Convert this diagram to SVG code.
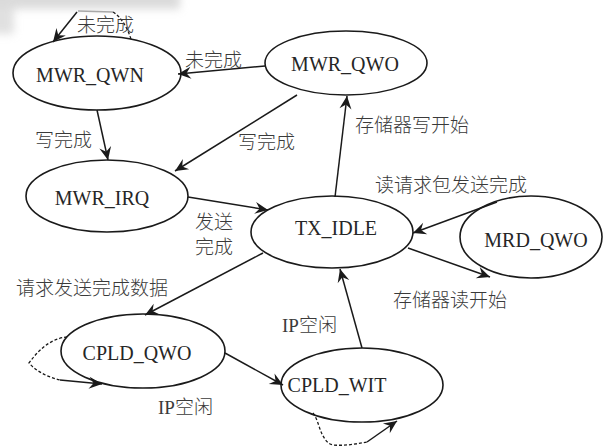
<svg xmlns="http://www.w3.org/2000/svg" width="603" height="448" viewBox="0 0 603 448">
  <style>
    .st { fill: none; stroke: #1a1a1a; stroke-width: 1.6; }
    .ln { fill: none; stroke: #1a1a1a; stroke-width: 1.5; }
    .dash { fill: none; stroke: #1a1a1a; stroke-width: 1.3; stroke-dasharray: 3 2; }
    .nm { font-family: "Liberation Serif", "Times New Roman", serif; font-size: 20px; fill: #262626; text-anchor: middle; }
    .lb { font-family: "Liberation Serif", "Noto Sans CJK SC", sans-serif; font-size: 19px; font-weight: 300; fill: #3a3a3a; }
  </style>
  <defs>
    <marker id="arr" viewBox="-14 -7 16 14" refX="0" refY="0" markerWidth="16" markerHeight="14" markerUnits="userSpaceOnUse" orient="auto">
      <path d="M0,0 L-13,-6 L-8.5,0 L-13,6 Z" fill="#1a1a1a"/>
    </marker>
    <filter id="soft" x="-50%" y="-50%" width="200%" height="200%">
      <feGaussianBlur stdDeviation="4"/>
    </filter>
  </defs>

  <rect width="603" height="448" fill="#fff"/>

  <!-- worn print at the top-left corner -->
  <g filter="url(#soft)" opacity="0.55">
    <rect x="-10" y="-10" width="190" height="19" fill="#bdbdbd"/>
    <rect x="-10" y="8" width="24" height="26" fill="#c8c8c8"/>
  </g>

  <!-- transitions -->
  <g id="connectors">
    <!-- MWR_QWN self loop -->
    <path class="dash" d="M131,39 C127,27 121,17 113,12"/>
    <path class="ln" d="M113,12 L78,11" stroke-opacity="0.35"/>
    <path class="ln" d="M77,12 L53,42" marker-end="url(#arr)"/>
    <!-- MWR_QWO -> MWR_QWN -->
    <path class="ln" d="M265,66 L178,74" marker-end="url(#arr)"/>
    <!-- MWR_QWN -> MWR_IRQ -->
    <path class="ln" d="M97,110 L108,160" marker-end="url(#arr)"/>
    <!-- MWR_QWO -> MWR_IRQ -->
    <path class="ln" d="M297,95 L175,171" marker-end="url(#arr)"/>
    <!-- MWR_IRQ -> TX_IDLE -->
    <path class="ln" d="M188,197 L268,210" marker-end="url(#arr)"/>
    <!-- TX_IDLE -> MWR_QWO -->
    <path class="ln" d="M335,197 L347,96" marker-end="url(#arr)"/>
    <!-- MRD_QWO -> TX_IDLE -->
    <path class="ln" d="M497,202 L413,233" marker-end="url(#arr)"/>
    <!-- TX_IDLE -> MRD_QWO -->
    <path class="ln" d="M408,248 L490,277" marker-end="url(#arr)"/>
    <!-- TX_IDLE -> CPLD_QWO -->
    <path class="ln" d="M263,253 L145,315" marker-end="url(#arr)"/>
    <!-- CPLD_QWO -> CPLD_WIT -->
    <path class="ln" d="M225,353 L283,385" marker-end="url(#arr)"/>
    <!-- CPLD_WIT -> TX_IDLE -->
    <path class="ln" d="M362,348 L340,269" marker-end="url(#arr)"/>
    <!-- CPLD_QWO self loop -->
    <path class="dash" d="M67,337 C55,338 42,345 29,363 C37,372 48,377 60,380"/>
    <path class="ln" d="M60,380 L102,384" marker-end="url(#arr)"/>
    <!-- CPLD_WIT self loop -->
    <path class="dash" d="M313,413 C318,420 319,428 322,434 C325,440 328,444 333,445 C345,446 356,444 367,442"/>
    <path class="ln" d="M367,442 L397,421" marker-end="url(#arr)"/>
  </g>

  <!-- states -->
  <g id="MWR_QWN">
    <ellipse class="st" cx="97" cy="73" rx="84" ry="37"/>
    <text class="nm" x="90" y="82">MWR_QWN</text>
  </g>
  <g id="MWR_QWO">
    <ellipse class="st" cx="346" cy="63" rx="81" ry="32"/>
    <text class="nm" x="345" y="71">MWR_QWO</text>
  </g>
  <g id="MWR_IRQ">
    <ellipse class="st" cx="107" cy="196" rx="81" ry="36"/>
    <text class="nm" x="102" y="205">MWR_IRQ</text>
  </g>
  <g id="TX_IDLE">
    <ellipse class="st" cx="332" cy="232" rx="81" ry="36"/>
    <text class="nm" x="336" y="235">TX_IDLE</text>
  </g>
  <g id="MRD_QWO">
    <ellipse class="st" cx="531" cy="237" rx="71" ry="41"/>
    <text class="nm" x="536" y="247">MRD_QWO</text>
  </g>
  <g id="CPLD_QWO">
    <ellipse class="st" cx="143" cy="351" rx="82" ry="37"/>
    <text class="nm" x="137" y="360">CPLD_QWO</text>
  </g>
  <g id="CPLD_WIT">
    <ellipse class="st" cx="362" cy="385" rx="81" ry="37"/>
    <text class="nm" x="337" y="392">CPLD_WIT</text>
  </g>

  <!-- transition labels -->
  <g id="labels">
    <text class="lb" x="77" y="32">未完成</text>
    <text class="lb" x="185" y="67">未完成</text>
    <text class="lb" x="35" y="147">写完成</text>
    <text class="lb" x="238" y="149">写完成</text>
    <text class="lb" x="355" y="132">存储器写开始</text>
    <text class="lb" x="195" y="229">发送</text>
    <text class="lb" x="195" y="254">完成</text>
    <text class="lb" x="375" y="192">读请求包发送完成</text>
    <text class="lb" x="393" y="307">存储器读开始</text>
    <text class="lb" x="16" y="295">请求发送完成数据</text>
    <text class="lb" x="282" y="332">IP空闲</text>
    <text class="lb" x="158" y="414">IP空闲</text>
  </g>
</svg>
